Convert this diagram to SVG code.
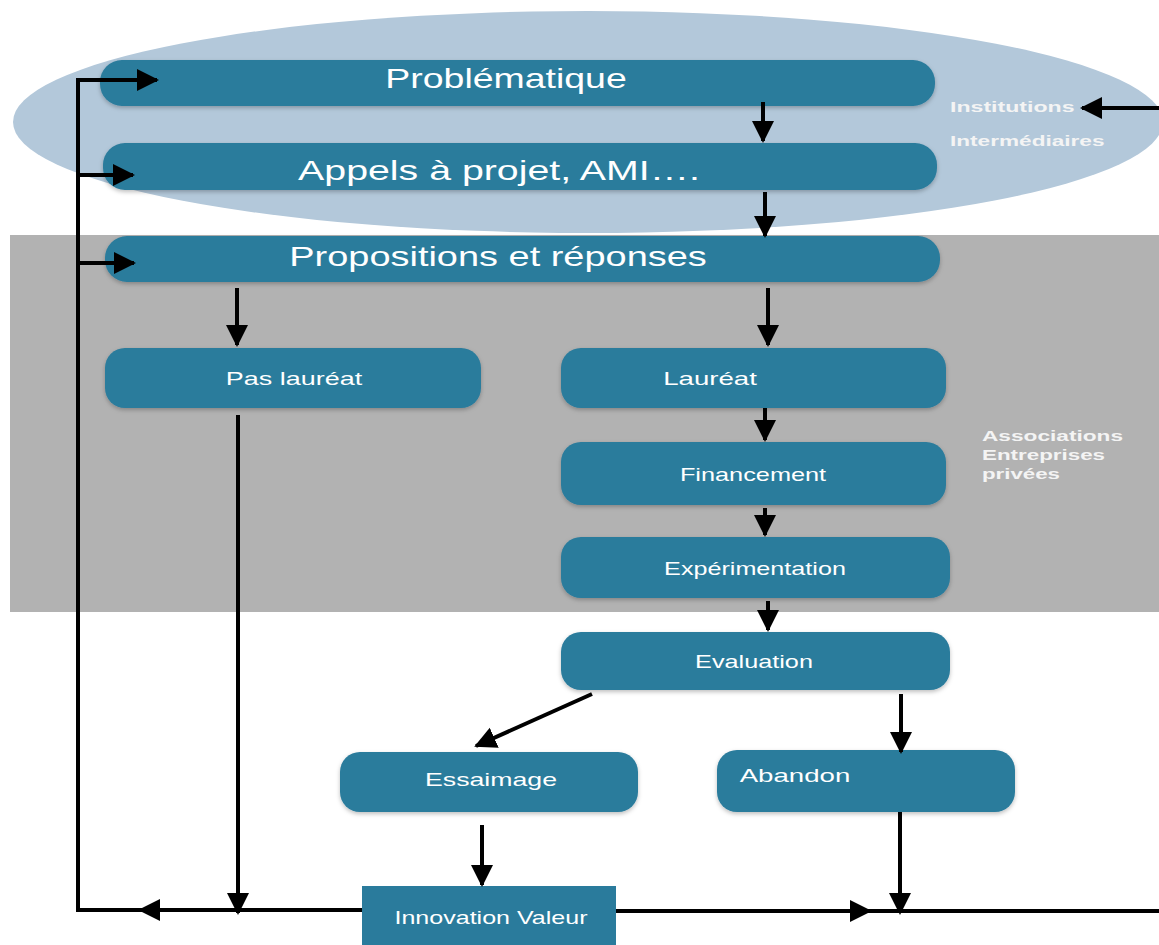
<svg xmlns="http://www.w3.org/2000/svg" width="1159" height="945" viewBox="0 0 1159 945">
<style>
.node{fill:#2a7b9c;}
.big{font-family:"Liberation Sans",Arial,sans-serif;font-size:27px;fill:#ffffff;text-anchor:middle;}
.mid{font-family:"Liberation Sans",Arial,sans-serif;font-size:18px;fill:#ffffff;text-anchor:middle;}
.side{font-family:"Liberation Sans",Arial,sans-serif;font-size:15px;font-weight:bold;fill:#f4f4f4;}
.c{stroke:#000;stroke-width:4;fill:none;}
</style>
<defs>
<marker id="ah" markerUnits="userSpaceOnUse" markerWidth="24" markerHeight="24" viewBox="0 0 24 24" refX="20" refY="12" orient="auto">
<path d="M0,1 L22,12 L0,23 Z" fill="#000"/>
</marker>
<filter id="sh" x="-5%" y="-20%" width="110%" height="150%">
<feDropShadow dx="0" dy="2" stdDeviation="2" flood-color="#000" flood-opacity="0.25"/>
</filter>
</defs>
<rect width="1159" height="945" fill="#ffffff"/>
<ellipse cx="588" cy="122" rx="575" ry="111" fill="#b3c8da"/>
<rect x="10" y="235" width="1149" height="377" fill="#b2b2b2"/>

<g id="n-problematique"><rect class="node" x="100" y="60" width="835" height="46" rx="22" filter="url(#sh)"/><g transform="translate(506,0) scale(1.42,1)"><text class="big" x="0" y="88" textLength="170" lengthAdjust="spacingAndGlyphs">Problématique</text></g></g>
<g id="n-appels"><rect class="node" x="103" y="143" width="834" height="47" rx="22" filter="url(#sh)"/><g transform="translate(499,0) scale(1.42,1)"><text class="big" x="0" y="180" textLength="283" lengthAdjust="spacingAndGlyphs">Appels à projet, AMI….</text></g></g>
<g id="n-propositions"><rect class="node" x="105" y="236" width="835" height="46" rx="22" filter="url(#sh)"/><g transform="translate(498,0) scale(1.42,1)"><text class="big" x="0" y="266" textLength="294" lengthAdjust="spacingAndGlyphs">Propositions et réponses</text></g></g>
<g id="n-pas-laureat"><rect class="node" x="105" y="348" width="376" height="60" rx="20" filter="url(#sh)"/><g transform="translate(294,0) scale(1.42,1)"><text class="mid" x="0" y="385" textLength="96" lengthAdjust="spacingAndGlyphs">Pas lauréat</text></g></g>
<g id="n-laureat"><rect class="node" x="561" y="348" width="385" height="60" rx="20" filter="url(#sh)"/><g transform="translate(710,0) scale(1.42,1)"><text class="mid" x="0" y="385" textLength="66" lengthAdjust="spacingAndGlyphs">Lauréat</text></g></g>
<g id="n-financement"><rect class="node" x="561" y="442" width="385" height="63" rx="20" filter="url(#sh)"/><g transform="translate(753,0) scale(1.42,1)"><text class="mid" x="0" y="481" textLength="103" lengthAdjust="spacingAndGlyphs">Financement</text></g></g>
<g id="n-experimentation"><rect class="node" x="561" y="537" width="389" height="61" rx="20" filter="url(#sh)"/><g transform="translate(755,0) scale(1.42,1)"><text class="mid" x="0" y="575" textLength="128" lengthAdjust="spacingAndGlyphs">Expérimentation</text></g></g>
<g id="n-evaluation"><rect class="node" x="561" y="632" width="389" height="58" rx="20" filter="url(#sh)"/><g transform="translate(754,0) scale(1.42,1)"><text class="mid" x="0" y="668" textLength="83" lengthAdjust="spacingAndGlyphs">Evaluation</text></g></g>
<g id="n-essaimage"><rect class="node" x="340" y="752" width="298" height="60" rx="20" filter="url(#sh)"/><g transform="translate(491,0) scale(1.42,1)"><text class="mid" x="0" y="786" textLength="93" lengthAdjust="spacingAndGlyphs">Essaimage</text></g></g>
<g id="n-abandon"><rect class="node" x="717" y="750" width="298" height="62" rx="20" filter="url(#sh)"/><g transform="translate(795,0) scale(1.42,1)"><text class="mid" x="0" y="782" textLength="78" lengthAdjust="spacingAndGlyphs">Abandon</text></g></g>
<g id="n-innovation"><rect class="node" x="362" y="886" width="254" height="59"/><g transform="translate(491,0) scale(1.42,1)"><text class="mid" x="0" y="924" textLength="136" lengthAdjust="spacingAndGlyphs">Innovation Valeur</text></g></g>

<g id="labels">
<g transform="translate(950,0) scale(1.5,1)"><text class="side" x="0" y="112" textLength="83" lengthAdjust="spacingAndGlyphs">Institutions</text>
<text class="side" x="0" y="146" textLength="103" lengthAdjust="spacingAndGlyphs">Intermédiaires</text></g>
<g transform="translate(982,0) scale(1.5,1)"><text class="side" x="0" y="441" textLength="94" lengthAdjust="spacingAndGlyphs">Associations</text>
<text class="side" x="0" y="460" textLength="82" lengthAdjust="spacingAndGlyphs">Entreprises</text>
<text class="side" x="0" y="479" textLength="52" lengthAdjust="spacingAndGlyphs">privées</text></g>
</g>

<g id="connectors">
<path class="c" d="M78,80 V910 H362"/>
<path class="c" d="M238,910 H140" marker-end="url(#ah)"/>
<path class="c" d="M76,80 H157" marker-end="url(#ah)"/>
<path class="c" d="M76,175 H133" marker-end="url(#ah)"/>
<path class="c" d="M76,263 H134" marker-end="url(#ah)"/>
<path class="c" d="M1159,108 H1082" marker-end="url(#ah)"/>
<path class="c" d="M763,102 V141" marker-end="url(#ah)"/>
<path class="c" d="M765,192 V236" marker-end="url(#ah)"/>
<path class="c" d="M237,288 V345" marker-end="url(#ah)"/>
<path class="c" d="M768,288 V345" marker-end="url(#ah)"/>
<path class="c" d="M765,408 V440" marker-end="url(#ah)"/>
<path class="c" d="M765,508 V535" marker-end="url(#ah)"/>
<path class="c" d="M768,601 V630" marker-end="url(#ah)"/>
<path class="c" d="M592,694 L476,746" marker-end="url(#ah)"/>
<path class="c" d="M901,694 V752" marker-end="url(#ah)"/>
<path class="c" d="M482,825 V885" marker-end="url(#ah)"/>
<path class="c" d="M238,415 V913" marker-end="url(#ah)"/>
<path class="c" d="M900,812 V913" marker-end="url(#ah)"/>
<path class="c" d="M616,911 H1159"/>
<path class="c" d="M616,911 H870" marker-end="url(#ah)"/>
</g>
</svg>
